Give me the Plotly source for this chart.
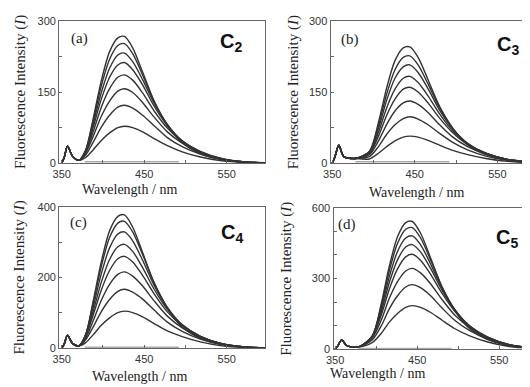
import plotly.graph_objects as go

# Wavelength grids (nm): left panels (a, c) and right panels (b, d)
wl_left = [350, 353, 357, 363, 371, 379, 388, 398, 408, 418, 426, 436, 448, 462, 478, 496, 518, 544, 572, 600]
wl_right = [350, 353, 358, 364, 378, 395, 406, 416, 426, 436, 444, 454, 466, 480, 496, 514, 536, 562, 590, 605]

# Raman / scatter part, shared by all curves of a panel
raman_a = [0, 12, 36, 15, 6]
raman_b = [0, 12, 38, 14, 10]
raman_c = [0, 12, 37, 14, 7]
raman_d = [0, 13, 40, 16, 9]

# Emission part for each curve, highest first
emis_a = [
    [27, 93, 174, 235, 264, 267, 243, 192, 131, 80, 43, 20, 8, 2, 1],
    [27, 88, 163, 219, 248, 252, 231, 186, 130, 82, 46, 22, 9, 2.5, 1],
    [26, 82, 149, 200, 228, 232, 214, 176, 126, 81, 47, 24, 9, 2.6, 1],
    [26, 75, 135, 181, 207, 212, 197, 165, 120, 79, 47, 25, 10, 2.8, 1],
    [24, 66, 118, 157, 181, 186, 175, 148, 110, 74, 46, 24, 9, 2.8, 1],
    [21, 56, 99, 131, 152, 157, 149, 128, 97, 66, 42, 22, 8.5, 2.7, 1],
    [17, 44, 76, 101, 118, 122, 116, 101, 79, 54, 35, 19, 7, 2.2, 1],
    [12, 28, 48, 64, 75, 78, 75, 66, 52, 37, 24, 13, 5, 1.6, 0.5],
]
emis_b = [
    [25, 86, 159, 216, 243, 245, 223, 176, 120, 74, 39, 18, 7, 2, 0.5],
    [24, 79, 146, 197, 223, 226, 207, 167, 117, 73, 41, 20, 8, 2.3, 1],
    [24, 73, 133, 179, 203, 207, 191, 157, 112, 72, 42, 21, 8, 2.3, 1],
    [22, 65, 117, 156, 179, 183, 170, 142, 104, 68, 41, 21, 8, 2.4, 1],
    [21, 57, 101, 135, 156, 160, 150, 127, 95, 64, 39, 21, 8, 2.4, 1],
    [18, 47, 82, 110, 127, 131, 124, 107, 81, 55, 35, 19, 7, 2.2, 1],
    [14, 35, 61, 81, 94, 98, 93, 81, 63, 44, 28, 15, 6, 1.8, 0.5],
    [9, 21, 35, 47, 55, 57, 55, 48, 38, 27, 18, 10, 4, 1.1, 0.3],
]
emis_c = [
    [38, 132, 245, 332, 373, 377, 343, 271, 185, 113, 60, 28, 11, 3, 1],
    [38, 126, 232, 313, 354, 359, 329, 265, 185, 116, 65, 32, 13, 3.6, 1],
    [38, 116, 211, 284, 323, 329, 304, 249, 178, 115, 67, 34, 13, 3.6, 1],
    [36, 104, 187, 251, 287, 294, 274, 228, 167, 110, 66, 34, 13, 3.8, 1],
    [34, 93, 165, 220, 253, 260, 244, 206, 154, 103, 64, 34, 13, 3.9, 1],
    [29, 77, 136, 181, 209, 216, 204, 176, 134, 91, 58, 31, 12, 3.7, 1],
    [24, 60, 104, 138, 161, 167, 159, 139, 108, 74, 48, 26, 10, 3, 1],
    [16, 38, 65, 86, 101, 105, 101, 89, 70, 49, 33, 18, 7, 2, 0.5],
]
emis_d = [
    [54, 190, 352, 477, 537, 542, 493, 390, 266, 163, 87, 41, 16, 4, 1],
    [55, 181, 333, 449, 509, 516, 473, 381, 266, 167, 93, 46, 18, 5, 1],
    [55, 170, 308, 415, 472, 481, 444, 364, 260, 168, 98, 49, 19, 5, 1],
    [54, 157, 283, 379, 434, 444, 413, 345, 252, 166, 99, 52, 20, 6, 1],
    [52, 143, 255, 341, 392, 403, 378, 320, 239, 160, 99, 52, 20, 6, 1],
    [47, 122, 216, 287, 332, 343, 324, 279, 212, 144, 92, 49, 19, 6, 1],
    [39, 98, 171, 227, 264, 274, 261, 228, 176, 122, 79, 43, 16, 5, 1],
    [28, 67, 115, 152, 178, 185, 178, 157, 124, 87, 57, 31, 12, 4, 1],
]

# Blank (solvent) baseline
blank_x = [378, 420, 460, 492]
blank_y = [3, 3, 3, 3]

panel_labels = ["(a)", "(b)", "(c)", "(d)"]
compound_labels = ["C<sub>2</sub>", "C<sub>3</sub>", "C<sub>4</sub>", "C<sub>5</sub>"]
y_max = [300, 300, 400, 600]
y_tickvals = [[0, 150, 300], [0, 150, 300], [0, 200, 400], [0, 300, 600]]
y_minor = [75, 75, 100, 100]
x_tickvals = [350, 450, 550]

W, H = 530, 387
OFF = 8  # the page body adds an 8px margin; positions below are in window pixels

# window-pixel frames: left, right, top, bottom
frames = [(52, 261, 15, 162), (328, 538, 15, 162), (52, 261, 207, 353), (331, 538, 208, 354)]
x_ranges = [[347, 596], [348, 598], [347, 596], [348, 596]]
wls = [wl_left, wl_right, wl_left, wl_right]
raman = [raman_a, raman_b, raman_c, raman_d]
emis = [emis_a, emis_b, emis_c, emis_d]

label_pos = [(62, 33), (337, 34), (61, 223), (334, 225)]
comp_pos = [(227, 37), (508, 40), (228, 235), (507, 240)]
ytitle_x = [12, 290, 12, 283]
xtitle_pos = [(123, 189), (415, 192), (134, 382), (376, 379)]


def px(x):
    return (x - OFF) / W


def py(y):
    return 1 - (y - OFF) / H


fig = go.Figure()
line_col = "#333333"
axis_col = "#666666"
serif = "Liberation Serif"
sans = "Liberation Sans"

for i in range(4):
    xa = "x" if i == 0 else f"x{i+1}"
    ya = "y" if i == 0 else f"y{i+1}"
    for curve in emis[i]:
        fig.add_trace(go.Scatter(x=wls[i], y=raman[i] + curve, mode="lines",
                                 line=dict(color=line_col, width=1.4, shape="spline", smoothing=0.8),
                                 xaxis=xa, yaxis=ya, showlegend=False, hoverinfo="skip"))
    fig.add_trace(go.Scatter(x=blank_x, y=blank_y, mode="lines",
                             line=dict(color="#aaaaaa", width=1.5),
                             xaxis=xa, yaxis=ya, showlegend=False, hoverinfo="skip"))

    l, r, t, b = frames[i]
    xdom = [px(l), min(px(r), 1.0)]
    ydom = [py(b), py(t)]
    key = "" if i == 0 else str(i + 1)
    fig.layout["xaxis" + key] = dict(
        domain=xdom, range=x_ranges[i], anchor=ya, showgrid=False, zeroline=False,
        showline=True, mirror=True, linecolor=axis_col, linewidth=1.2,
        ticks="inside", ticklen=3, tickcolor=axis_col,
        tickvals=x_tickvals,
        minor=dict(ticks="inside", ticklen=3, tickcolor=axis_col, tick0=350, dtick=50),
        tickfont=dict(family=sans, size=11, color="#333333"))
    fig.layout["yaxis" + key] = dict(
        domain=ydom, range=[0, y_max[i]], anchor=xa, showgrid=False, zeroline=False,
        showline=True, mirror=True, linecolor=axis_col, linewidth=1.2,
        ticks="inside", ticklen=3, tickcolor=axis_col,
        tickvals=y_tickvals[i],
        minor=dict(ticks="inside", ticklen=3, tickcolor=axis_col, tick0=0, dtick=y_minor[i]),
        tickfont=dict(family=sans, size=11, color="#333333"))

    lx, ly = label_pos[i]
    fig.add_annotation(x=px(lx), y=py(ly), xref="paper", yref="paper",
                       text=panel_labels[i], showarrow=False, xanchor="left", yanchor="middle",
                       font=dict(family=serif, size=15, color="#222222"))
    cx, cy = comp_pos[i]
    fig.add_annotation(x=px(cx), y=py(cy), xref="paper", yref="paper",
                       text="<b>" + compound_labels[i] + "</b>", showarrow=False,
                       xanchor="center", yanchor="middle",
                       font=dict(family=sans, size=20, color="#111111"))
    fig.add_annotation(x=px(ytitle_x[i]), y=py((t + b) / 2),
                       xref="paper", yref="paper", textangle=-90,
                       text="Fluorescence Intensity (<i>I</i>)", showarrow=False,
                       xanchor="center", yanchor="middle",
                       font=dict(family=serif, size=15, color="#222222"))
    tx, ty = xtitle_pos[i]
    fig.add_annotation(x=px(tx), y=py(ty), xref="paper", yref="paper",
                       text="Wavelength / nm", showarrow=False,
                       xanchor="center", yanchor="middle",
                       font=dict(family=serif, size=14, color="#222222"))

fig.update_layout(width=W, height=H, margin=dict(l=0, r=0, t=0, b=0),
                  paper_bgcolor="white", plot_bgcolor="white")
fig.write_html("out.html")
